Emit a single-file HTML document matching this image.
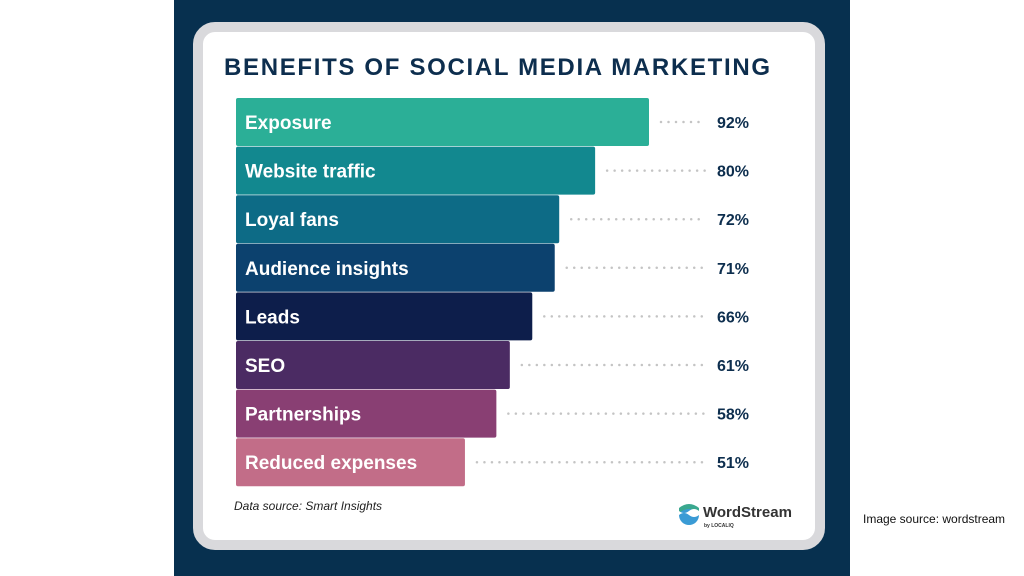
<!DOCTYPE html>
<html><head><meta charset="utf-8"><style>
body{margin:0;width:1024px;height:576px;background:#fff;position:relative;overflow:hidden;font-family:"Liberation Sans",sans-serif}
#navy{position:absolute;left:174px;top:0;width:676px;height:576px;background:#07304f}
#card{position:absolute;left:193px;top:22px;width:612px;height:508px;background:#fff;border:10px solid #d9d9dc;border-radius:22px}
#src{position:absolute;left:863px;top:512px;font-size:12px;color:#111}
</style></head><body>
<div id="navy"></div>
<div id="card"></div>
<svg width="1024" height="576" style="position:absolute;left:0;top:0" id="chart">
<text x="224" y="75" font-size="24" font-weight="bold" fill="#0d2e4e" textLength="546">BENEFITS OF SOCIAL MEDIA MARKETING</text>
<text x="234" y="510" font-size="12" font-style="italic" fill="#222">Data source: Smart Insights</text>
<g>
<circle cx="689" cy="515" r="10" fill="#3a9bd5"/>
<path d="M679 513 Q689 505 699 513 L699 508 Q689 500 679 508Z" fill="#3aa88f"/>
<path d="M679 515 Q684 511 689 515 Q694 519 699 515 L699 511 Q694 507 689 511 Q684 515 679 511Z" fill="#fff"/>
<text x="703" y="517" font-size="15" font-weight="bold" fill="#333">WordStream</text>
<text x="704" y="527" font-size="5" font-weight="bold" fill="#333">by LOCALIQ</text>
</g>
<g id="bars"></g>
</svg>
<div id="src">Image source: wordstream</div>
<script>
const categories=["Exposure","Website traffic","Loyal fans","Audience insights","Leads","SEO","Partnerships","Reduced expenses"];
const values=[92,80,72,71,66,61,58,51];
const colors=["#2baf97","#12888f","#0d6b86","#0c416e","#0d1e4b","#4b2b63","#893f73","#c26d88"];
const x0=236, pxPer=413/92, top0=98, pitch=48.6, bh=48;
const xs=v=>x0+v*pxPer;
const g=document.getElementById('bars');
const NS="http://www.w3.org/2000/svg";
categories.forEach((c,i)=>{
  const y=top0+i*pitch, cy=y+bh/2;
  const r=document.createElementNS(NS,'rect');
  r.setAttribute('x',x0);r.setAttribute('y',y);r.setAttribute('width',xs(values[i])-x0);r.setAttribute('height',bh);r.setAttribute('rx',2);r.setAttribute('fill',colors[i]);
  
  
  g.appendChild(r);
  const l=document.createElementNS(NS,'line');
  l.setAttribute('x1',xs(values[i])+12);l.setAttribute('x2',705);l.setAttribute('y1',cy);l.setAttribute('y2',cy);
  l.setAttribute('stroke','#c4c4c4');l.setAttribute('stroke-width',2.5);l.setAttribute('stroke-dasharray','0 7.5');l.setAttribute('stroke-linecap','round');
  
  
  g.appendChild(l);
  const t=document.createElementNS(NS,'text');
  t.setAttribute('x',245);t.setAttribute('y',cy+7);t.setAttribute('font-size',19);t.setAttribute('font-weight','bold');t.setAttribute('fill','#fff');
  t.textContent=c;
  
  
  g.appendChild(t);
  const p=document.createElementNS(NS,'text');
  p.setAttribute('x',717);p.setAttribute('y',cy+6);p.setAttribute('font-size',16);p.setAttribute('font-weight','bold');p.setAttribute('fill','#0d2e4e');
  p.textContent=values[i]+'%';
  
  
  g.appendChild(p);
});
</script>
</body></html>
